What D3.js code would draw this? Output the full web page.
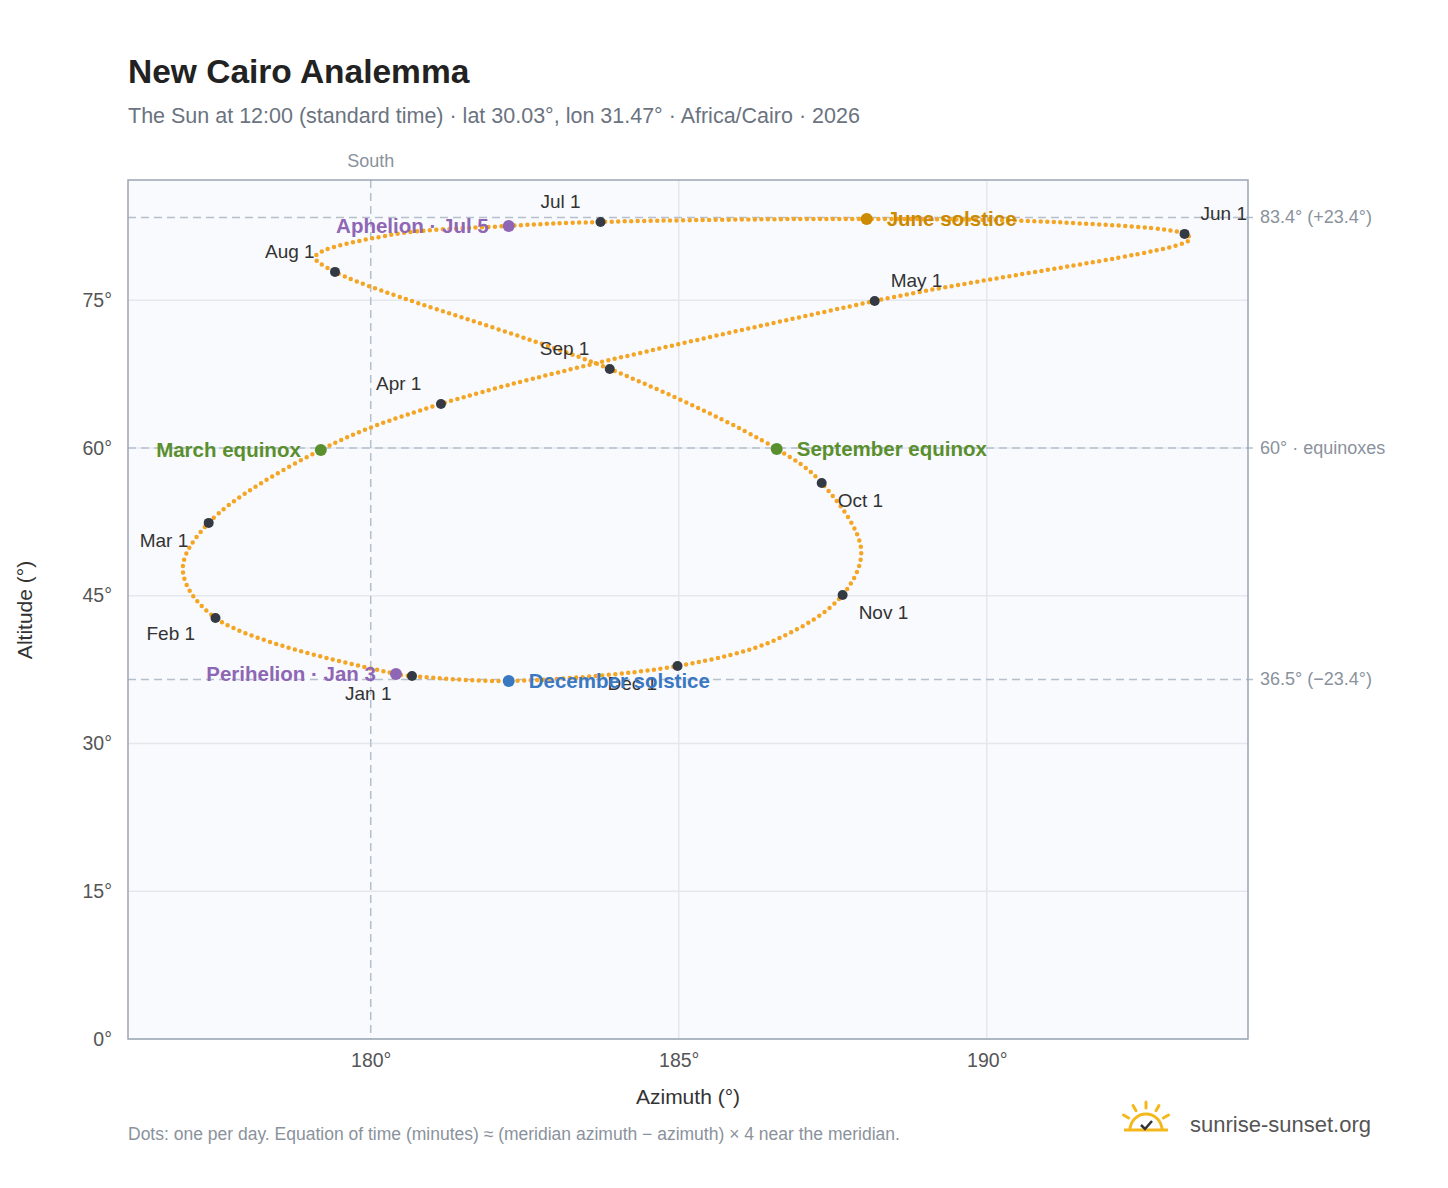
<!DOCTYPE html>
<html><head><meta charset="utf-8">
<script src="https://cdn.jsdelivr.net/npm/d3@7"></script>
<style>body{margin:0;background:#fff;font-family:"Liberation Sans",Arial,sans-serif;}</style>
</head><body><svg id="chart" width="1448" height="1188"></svg>
<script>
'use strict';

// ─── Data ────────────────────────────────────────────────────────────────────
// Sun position at 12:00 along the year: [date label, azimuth °, altitude °]
const pathDates = ['Jan 1','Jan 3','Feb 1','Feb 14','Mar 1','Mar 20','Apr 1','May 1','May 26','Jun 1','Jun 10','Jun 21','Jul 1','Jul 5','Jul 15','Jul 25','Aug 1','Sep 1','Sep 22','Oct 1','Oct 20','Nov 1','Nov 15','Dec 1','Dec 21','Dec 31'];
const pathAz    = [180.67,180.41,177.48,176.95,177.37,179.19,181.14,188.18,193.3,193.21,191.2,188.05,183.73,182.24,180.3,179.1,179.42,183.88,186.59,187.32,187.96,187.66,186.6,184.98,182.24,180.75];
const pathAlt   = [36.85,37.06,42.74,47.6,52.39,59.8,64.47,74.92,81.2,81.73,82.9,83.25,82.94,82.54,81.6,79.4,77.87,68.02,59.9,56.45,49.7,45.08,40.6,37.87,36.35,36.8];

const monthLabels = ['Jan 1','Feb 1','Mar 1','Apr 1','May 1','Jun 1','Jul 1','Aug 1','Sep 1','Oct 1','Nov 1','Dec 1'];
const monthAz     = [180.67,177.48,177.37,181.14,188.18,193.21,183.73,179.42,183.88,187.32,187.66,184.98];
const monthAlt    = [36.85,42.74,52.39,64.47,74.92,81.73,82.94,77.87,68.02,56.45,45.08,37.87];
const monthDx     = [-67,-69,-69,-65,16,16,-60,-70,-70,16,16,-70];
const monthDy     = [24,22,24,-14,-14,-14,-14,-14,-14,24,24,24];

const eventLabels = ['March equinox','June solstice','September equinox','December solstice','Perihelion · Jan 3','Aphelion · Jul 5'];
const eventAz     = [179.19,188.05,186.59,182.24,180.41,182.24];
const eventAlt    = [59.8,83.25,59.9,36.35,37.06,82.54];
const eventColor  = ['#5a8f2e','#cc8a00','#5a8f2e','#3a78c2','#8e66b5','#8e66b5'];
const eventAnchor = ['end','start','start','start','end','end'];

const xTicks = [180,185,190];
const yTicks = [0,15,30,45,60,75];
const refLines = [83.4,60,36.5];
const refLabels = ['83.4° (+23.4°)','60° · equinoxes','36.5° (−23.4°)'];

// ─── Layout ─────────────────────────────────────────────────────────────────
const svg = d3.select('#chart');
const L = 128, R = 1248, T = 180, B = 1039;
const x = d3.scaleLinear().domain([176.06,194.24]).range([L,R]);
const y = d3.scaleLinear().domain([0,87.2]).range([B,T]);

svg.append('text').attr('x',128).attr('y',83).attr('font-size',33.5).attr('font-weight','bold').attr('fill','#222').text('New Cairo Analemma');
svg.append('text').attr('x',128).attr('y',123).attr('font-size',21.5).attr('fill','#6b7380')
  .text('The Sun at 12:00 (standard time) · lat 30.03°, lon 31.47° · Africa/Cairo · 2026');

svg.append('rect').attr('x',L).attr('y',T).attr('width',R-L).attr('height',B-T).attr('fill','#f8fafd');

// grid
svg.append('g').selectAll('line').data(xTicks.filter(function (d) { return d !== 180; })).enter().append('line')
  .attr('x1',x).attr('x2',x).attr('y1',T).attr('y2',B).attr('stroke','#e3e8ee').attr('stroke-width',1.5);
svg.append('g').selectAll('line').data(yTicks).enter().append('line')
  .attr('y1',y).attr('y2',y).attr('x1',L).attr('x2',R).attr('stroke','#e3e8ee').attr('stroke-width',1.5);

// reference lines
svg.append('g').selectAll('line').data(refLines).enter().append('line')
  .attr('y1',y).attr('y2',y).attr('x1',L).attr('x2',R+5).attr('stroke','#b5c0cc').attr('stroke-width',1.5).attr('stroke-dasharray','8 5');
svg.append('g').selectAll('text').data(refLines).enter().append('text')
  .attr('x',1260).attr('y',function (d) { return y(d)+6; }).attr('font-size',18).attr('fill','#8a929c')
  .text(function (d,i) { return refLabels[i]; });
svg.append('line').attr('x1',x(180)).attr('x2',x(180)).attr('y1',T).attr('y2',B)
  .attr('stroke','#b5c0cc').attr('stroke-width',1.5).attr('stroke-dasharray','8 5');
svg.append('text').attr('x',x(180)).attr('y',167).attr('text-anchor','middle').attr('font-size',18).attr('fill','#8a929c').text('South');

svg.append('rect').attr('x',L).attr('y',T).attr('width',R-L).attr('height',B-T).attr('fill','none').attr('stroke','#9aa5b4').attr('stroke-width',1.5);

// axes
const xAxis = svg.append('g').attr('transform','translate(0,'+B+')')
  .call(d3.axisBottom(x).tickValues(xTicks).tickSize(0).tickPadding(14).tickFormat(function (d) { return d+'°'; }));
const yAxis = svg.append('g').attr('transform','translate('+L+',0)')
  .call(d3.axisLeft(y).tickValues(yTicks).tickSize(0).tickPadding(16).tickFormat(function (d) { return d+'°'; }));
[xAxis,yAxis].forEach(function (a) {
  a.select('.domain').remove();
  a.selectAll('text').attr('font-size',19.5).attr('fill','#555').attr('font-family','"Liberation Sans",Arial,sans-serif');
});
svg.append('text').attr('x',688).attr('y',1104).attr('text-anchor','middle').attr('font-size',21).attr('fill','#333').text('Azimuth (°)');
svg.append('text').attr('transform','translate(32,610) rotate(-90)').attr('text-anchor','middle').attr('font-size',21).attr('fill','#333').text('Altitude (°)');

// analemma: dotted curve
const pts = pathAz.map(function (a,i) { return [a, pathAlt[i]]; });
const line = d3.line().x(function (d) { return x(d[0]); }).y(function (d) { return y(d[1]); }).curve(d3.curveCatmullRomClosed);
svg.append('path').attr('d',line(pts)).attr('fill','none').attr('stroke','#f5a524')
  .attr('stroke-width',4.5).attr('stroke-linecap','round').attr('stroke-dasharray','0 6.5');

// monthly markers
const mg = svg.append('g');
mg.selectAll('circle').data(monthAz).enter().append('circle')
  .attr('cx',function (d) { return x(d); }).attr('cy',function (d,i) { return y(monthAlt[i]); })
  .attr('r',5).attr('fill','#343a44');
mg.selectAll('text').data(monthLabels).enter().append('text')
  .attr('x',function (d,i) { return x(monthAz[i])+monthDx[i]; })
  .attr('y',function (d,i) { return y(monthAlt[i])+monthDy[i]; })
  .attr('font-size',19).attr('fill','#333').text(function (d) { return d; });

// events
const eg = svg.append('g');
eg.selectAll('circle').data(eventAz).enter().append('circle')
  .attr('cx',function (d) { return x(d); }).attr('cy',function (d,i) { return y(eventAlt[i]); })
  .attr('r',6).attr('fill',function (d,i) { return eventColor[i]; });
eg.selectAll('text').data(eventLabels).enter().append('text')
  .attr('x',function (d,i) { return x(eventAz[i]) + (eventAnchor[i]==='end' ? -20 : 20); })
  .attr('y',function (d,i) { return y(eventAlt[i])+7; })
  .attr('text-anchor',function (d,i) { return eventAnchor[i]; })
  .attr('font-size',20.5).attr('font-weight','bold').attr('fill',function (d,i) { return eventColor[i]; })
  .text(function (d) { return d; });

// footer
svg.append('text').attr('x',128).attr('y',1140).attr('font-size',17.5).attr('fill','#8a929c')
  .text('Dots: one per day. Equation of time (minutes) ≈ (meridian azimuth − azimuth) × 4 near the meridian.');
const logo = svg.append('g').attr('transform','translate(1146,1125)');
logo.append('path').attr('d','M-16,5 A16,16 0 0 1 16,5').attr('fill','none').attr('stroke','#f5b81c').attr('stroke-width',3);
[-60,-30,0,30,60].forEach(function (a) {
  const r = a*Math.PI/180;
  logo.append('line').attr('x1',Math.sin(r)*20).attr('y1',-Math.cos(r)*20+3).attr('x2',Math.sin(r)*26).attr('y2',-Math.cos(r)*26+3)
    .attr('stroke','#f5b81c').attr('stroke-width',3).attr('stroke-linecap','round');
});
logo.append('line').attr('x1',-22).attr('x2',22).attr('y1',5).attr('y2',5).attr('stroke','#f5b81c').attr('stroke-width',3);
logo.append('path').attr('d','M-5,0 L-1,4 L6,-4').attr('fill','none').attr('stroke','#333').attr('stroke-width',2.5);
svg.append('text').attr('x',1190).attr('y',1132).attr('font-size',22).attr('fill','#555').text('sunrise-sunset.org');
</script></body></html>
